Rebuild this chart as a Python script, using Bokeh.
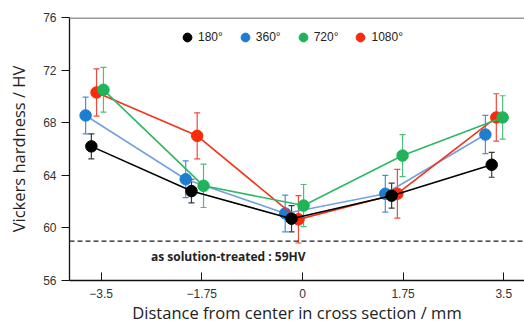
from bokeh.plotting import figure
from bokeh.models import (ColumnDataSource, Whisker, TeeHead, Span, Label,
                          Legend, LegendItem, Range1d, FixedTicker)
from bokeh.embed import file_html
from bokeh.resources import INLINE

# ---- data ----
tick_positions = [-3.5, -1.75, 0, 1.75, 3.5]
tick_labels = ["\u22123.5", "\u22121.75", "0", "1.75", "3.5"]
y_ticks = [56, 60, 64, 68, 72, 76]

series_names = ["180°", "360°", "720°", "1080°"]

x_180 = [-3.67, -1.93, -0.19, 1.55, 3.29]
y_180 = [66.2, 62.8, 60.7, 62.45, 64.8]
e_180 = [0.95, 0.9, 1.0, 0.95, 0.95]

x_360 = [-3.77, -2.03, -0.30, 1.44, 3.18]
y_360 = [68.55, 63.7, 61.1, 62.6, 67.1]
e_360 = [1.4, 1.4, 1.4, 1.4, 1.45]

x_720 = [-3.46, -1.72, 0.02, 1.74, 3.48]
y_720 = [70.5, 63.2, 61.7, 65.5, 68.4]
e_720 = [1.7, 1.65, 1.6, 1.6, 1.65]

x_1080 = [-3.58, -1.83, -0.07, 1.65, 3.37]
y_1080 = [70.3, 67.0, 60.65, 62.6, 68.4]
e_1080 = [1.8, 1.75, 1.8, 1.85, 1.8]

solution_treated = 59
solution_text = "as solution-treated : 59HV"

# ---- styles ----
marker_colors = {"180°": "#000000", "360°": "#1f7dd0", "720°": "#1fb45a", "1080°": "#fa2b0c"}
line_colors = {"180°": "#000000", "360°": "#74a3dc", "720°": "#2cb866", "1080°": "#f5321a"}
bar_colors = {"180°": "#3a3a3a", "360°": "#4a8fd4", "720°": "#4cc07a", "1080°": "#ee4a3c"}

data = {
    "180°": (x_180, y_180, e_180),
    "360°": (x_360, y_360, e_360),
    "720°": (x_720, y_720, e_720),
    "1080°": (x_1080, y_1080, e_1080),
}

p = figure(width=524, height=327, x_range=Range1d(-4.05, 3.86), y_range=Range1d(56, 76),
           output_backend="svg", toolbar_location=None,
           min_border_left=69, min_border_top=17, min_border_right=0, min_border_bottom=47)
p.outline_line_color = None
p.grid.visible = False
p.background_fill_color = "white"
p.border_fill_color = "white"

# axes
p.yaxis.ticker = FixedTicker(ticks=y_ticks)
p.yaxis.major_tick_out = 8
p.yaxis.major_tick_in = 0
p.yaxis.minor_tick_line_color = None
p.yaxis.axis_line_color = "#111111"
p.yaxis.axis_line_width = 1.3
p.yaxis.major_tick_line_color = "#111111"
p.yaxis.major_label_text_font = "Liberation Sans"
p.yaxis.major_label_text_font_size = "12px"
p.yaxis.major_label_text_color = "#333333"
p.yaxis.major_label_standoff = 5
p.yaxis.axis_label = "Vickers hardness / HV"
p.yaxis.axis_label_text_font = "Open Sans"
p.yaxis.axis_label_text_font_size = "16.5px"
p.yaxis.axis_label_text_font_style = "normal"
p.yaxis.axis_label_text_color = "#222222"
p.yaxis.axis_label_standoff = 10

p.xaxis.ticker = FixedTicker(ticks=tick_positions)
p.xaxis.major_label_overrides = {t: l for t, l in zip(tick_positions, tick_labels)}
p.xaxis.major_tick_in = 8
p.xaxis.major_tick_out = 0
p.xaxis.minor_tick_line_color = None
p.xaxis.axis_line_color = "#111111"
p.xaxis.axis_line_width = 1.3
p.xaxis.major_tick_line_color = "#111111"
p.xaxis.major_label_text_font = "Liberation Sans"
p.xaxis.major_label_text_font_size = "12px"
p.xaxis.major_label_text_color = "#333333"
p.xaxis.major_label_standoff = 8
p.xaxis.axis_label = "Distance from center in cross section / mm"
p.xaxis.axis_label_text_font = "Open Sans"
p.xaxis.axis_label_text_font_size = "16.5px"
p.xaxis.axis_label_text_font_style = "normal"
p.xaxis.axis_label_text_color = "#222222"
p.xaxis.axis_label_standoff = 0

# top frame line
p.add_layout(Span(location=76, dimension="width", line_color="#9a9a9a", line_width=3))

# solution-treated reference
p.add_layout(Span(location=solution_treated, dimension="width", line_color="#222222",
                  line_width=1.3, line_dash="5 3"))
p.add_layout(Label(x=-1.29, y=solution_treated - 1.15, text=solution_text,
                   text_font="Open Sans", text_font_style="bold", text_font_size="12px",
                   text_align="center", text_baseline="middle", text_color="#222222"))

renderers = {}
for name in ["360°", "1080°", "720°", "180°"]:
    xs, ys, es = data[name]
    src = ColumnDataSource(dict(x=xs, y=ys,
                                upper=[a + b for a, b in zip(ys, es)],
                                lower=[a - b for a, b in zip(ys, es)]))
    w = Whisker(base="x", upper="upper", lower="lower", source=src, level="underlay",
                line_color=bar_colors[name], line_width=1.2,
                upper_head=TeeHead(size=6, line_color=bar_colors[name], line_width=1.2),
                lower_head=TeeHead(size=6, line_color=bar_colors[name], line_width=1.2))
    p.add_layout(w)
    p.line("x", "y", source=src, line_color=line_colors[name], line_width=1.6)
    renderers[name] = p.scatter("x", "y", source=src, size=11.5, fill_color=marker_colors[name],
                                line_color=marker_colors[name])

legend = Legend(items=[LegendItem(label=n, renderers=[renderers[n]]) for n in series_names],
                location=(107, 232), orientation="horizontal",
                border_line_color=None, background_fill_alpha=0,
                glyph_width=22, glyph_height=22, label_standoff=0, spacing=11,
                margin=0, padding=0, label_text_font="Liberation Sans",
                label_text_font_size="12px", label_text_color="#222222")
p.add_layout(legend)

open("out.html", "w").write(file_html(p, INLINE))
